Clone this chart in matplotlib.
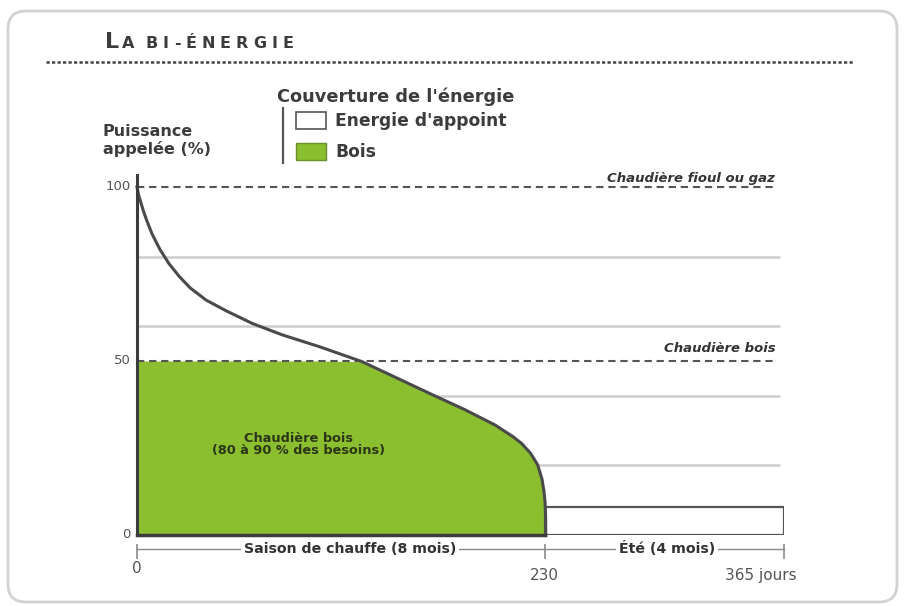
import numpy as np
import matplotlib.pyplot as plt
from matplotlib.patches import FancyBboxPatch, Rectangle
from matplotlib.lines import Line2D

W, H = 906, 606

# courbe monotone de puissance appelee (jours tries, % de la puissance max)
jours = [0, 1, 2.2, 3.5, 5.4, 8.5, 13, 18, 24, 30, 39, 50, 65, 82, 103, 127, 145,
         165, 185, 202, 212, 217, 222, 226, 228.5, 229.6, 230.2, 230.5, 230.6]
puissance = [100, 97.5, 95.5, 93.3, 90.5, 86.5, 82, 78, 74.2, 71, 67.5, 64.5, 60.8,
             57.5, 54.1, 49.8, 45.5, 40.7, 36, 31.6, 28.3, 26.3, 23.5, 20.2, 16,
             12.5, 9.5, 6, 0]

puissance_bois = 50      # chaudiere bois
puissance_fioul = 100    # chaudiere fioul ou gaz
ete_debut, ete_fin = 230, 365
ete_puissance = 8

y_grid = [20, 40, 60, 80]
y_ticks = [0, 50, 100]
x_ticks = [0, 230, 365]
x_tick_labels = ['0', '230', '365 jours']

GREEN = '#8cbf2f'
DARK = '#3c3c3c'
FONT = 'DejaVu Sans'


def px(x, y):
    # pixel coordinates (from top-left) -> figure fraction
    return x / W, 1 - y / H


plt.rcParams['font.family'] = FONT

fig = plt.figure(figsize=(W / 100, H / 100), dpi=100, facecolor='white')

# rounded frame
frame = FancyBboxPatch((8, 4), 889, 591, boxstyle='round,pad=0,rounding_size=18',
                       transform=None, facecolor='none', edgecolor='#d2d2d2', lw=2, zorder=-1)
fig.add_artist(frame)

# title in small caps, letter-spaced
renderer = fig.canvas.get_renderer()
x = 105
t = fig.text(*px(x, 48), 'L', fontsize=16, weight='bold', color=DARK, va='baseline')
x += t.get_window_extent(renderer).width + 3
for word in ['A', 'BI-ÉNERGIE']:
    for ch in word:
        t = fig.text(*px(x, 48), ch, fontsize=11.5, weight='bold', color=DARK, va='baseline')
        x += t.get_window_extent(renderer).width + 5
    x += 6
fig.add_artist(Line2D([46 / W, 853 / W], [1 - 62 / H, 1 - 62 / H], color='#444444',
                      lw=1.8, linestyle=(0, (1.3, 0.9))))

# legend
fig.text(*px(277, 97), "Couverture de l'énergie", fontsize=12.8, weight='bold',
         color=DARK, va='center')
fig.add_artist(Line2D([283 / W, 283 / W], [1 - 108 / H, 1 - 163 / H], color='#555555', lw=1.6))
fig.add_artist(Rectangle(px(296, 129), 30 / W, 17 / H, facecolor='white',
                         edgecolor='#555555', lw=1.2))
fig.add_artist(Rectangle(px(296, 160), 30 / W, 17 / H, facecolor=GREEN,
                         edgecolor='#6d8f2a', lw=1.0))
fig.text(*px(335, 121), "Energie d'appoint", fontsize=12.3, weight='bold', color=DARK, va='center')
fig.text(*px(335, 152), 'Bois', fontsize=12.3, weight='bold', color=DARK, va='center')

fig.text(*px(103, 131), 'Puissance', fontsize=11.5, weight='bold', color=DARK, va='center')
fig.text(*px(103, 149), 'appelée (%)', fontsize=11.5, weight='bold', color=DARK, va='center')

# plot area
ax = fig.add_axes([137 / W, 1 - 535 / H, (784 - 137) / W, 348 / H])
ax.set_xlim(0, 365)
ax.set_ylim(0, 100)
ax.axis('off')

ax.hlines(y_grid, 0, 363, colors='#cdcdcd', lw=1.8, zorder=1)
ax.hlines([puissance_fioul, puissance_bois], 0, 361, colors='#555555', lw=1.5,
          linestyles=(0, (3.5, 2.3)), zorder=4, clip_on=False)

ax.fill_between(jours, 0, np.minimum(puissance, puissance_bois), color=GREEN, lw=0, zorder=2)
ax.bar(ete_debut, ete_puissance, width=ete_fin - ete_debut, align='edge',
       facecolor='white', edgecolor='#555555', lw=1.6, zorder=3)
ax.plot(jours, puissance, color='#4a4a4a', lw=2.2, zorder=5, clip_on=False,
        solid_joinstyle='round')
ax.plot([0, ete_debut], [0, 0], color=DARK, lw=2.5, zorder=5, clip_on=False)
ax.plot([0, 0], [0, 103.5], color=DARK, lw=2.2, zorder=6, clip_on=False)

for v in y_ticks:
    ax.text(-3.5, v, str(v), ha='right', va='center', fontsize=9.5, color='#555555')

ax.text(360, 102.5, 'Chaudière fioul ou gaz', ha='right', va='center', style='italic',
        weight='bold', fontsize=9.5, color='#333333')
ax.text(360, 53.7, 'Chaudière bois', ha='right', va='center', style='italic',
        weight='bold', fontsize=9.5, color='#333333')

ax.text(91, 26, 'Chaudière bois\n(80 à 90 % des besoins)', ha='center', va='center',
        fontsize=9.3, weight='bold', color='#2a3518', linespacing=0.95, zorder=6)

# dimension line under the x axis
ax.plot([0, 365], [-4, -4], color='#8a8a8a', lw=1, clip_on=False)
ax.vlines(x_ticks, -2.5, -7, colors='#8a8a8a', lw=1.2, clip_on=False)
ax.text(120, -4, 'Saison de chauffe (8 mois)', ha='center', va='center', fontsize=10.2,
        weight='bold', color='#333333', bbox=dict(fc='white', ec='none', pad=2))
ax.text(299, -4, 'Été (4 mois)', ha='center', va='center', fontsize=10.2,
        weight='bold', color='#333333', bbox=dict(fc='white', ec='none', pad=2))

ax.text(x_ticks[0], -9.5, x_tick_labels[0], ha='center', va='center', fontsize=11, color='#555555')
ax.text(x_ticks[1], -11.5, x_tick_labels[1], ha='center', va='center', fontsize=11, color='#555555')
ax.text(372, -11.5, x_tick_labels[2], ha='right', va='center', fontsize=11, color='#555555')

fig.savefig('out.png', dpi=100)
